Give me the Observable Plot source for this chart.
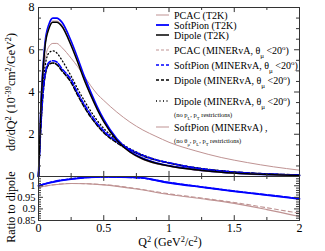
<!DOCTYPE html>
<html><head><meta charset="utf-8">
<script src="https://cdn.jsdelivr.net/npm/d3@7"></script>
<script src="https://cdn.jsdelivr.net/npm/@observablehq/plot@0.6"></script>
<style>
body{margin:0;background:#fff}
#wrap{position:relative;width:325px;height:251px;font-family:"Liberation Serif",serif;overflow:hidden}
#wrap svg{position:absolute;left:0}
</style>
</head><body><div id="wrap"></div>
<script>
// ---- data ----
const q2 = [0, 0.02, 0.05, 0.08, 0.11, 0.14, 0.18, 0.25, 0.3, 0.35, 0.4, 0.45, 0.5, 0.6, 0.7, 0.8, 0.9, 1.0, 1.2, 1.4, 1.6, 1.8, 2.0];
const pcacT2K      = [0, 3.45, 6.2, 7.05, 7.36, 7.36, 7.16, 6.26, 5.46, 4.6, 3.86, 3.18, 2.6, 1.7, 1.14, 0.8, 0.6, 0.48, 0.3, 0.19, 0.12, 0.078, 0.043];
const softT2K      = [0, 3.5, 6.3, 7.2, 7.5, 7.5, 7.3, 6.4, 5.6, 4.75, 4.0, 3.3, 2.7, 1.78, 1.2, 0.86, 0.65, 0.51, 0.325, 0.205, 0.13, 0.085, 0.048];
const dipoleT2K    = [0, 3.45, 6.15, 7.0, 7.3, 7.3, 7.1, 6.2, 5.42, 4.58, 3.85, 3.18, 2.6, 1.72, 1.16, 0.83, 0.63, 0.5, 0.32, 0.205, 0.132, 0.088, 0.05];
const pcacMIN      = [0, 2.6, 4.77, 5.33, 5.4, 5.33, 5.03, 4.48, 3.87, 3.31, 2.83, 2.42, 2.09, 1.59, 1.23, 0.96, 0.76, 0.62, 0.39, 0.25, 0.158, 0.1, 0.062];
const softMIN      = [0, 2.62, 4.82, 5.4, 5.48, 5.42, 5.1, 4.58, 3.97, 3.42, 2.93, 2.51, 2.16, 1.66, 1.29, 1.0, 0.79, 0.65, 0.41, 0.263, 0.166, 0.106, 0.066];
const dipoleMIN    = [0, 2.6, 4.75, 5.3, 5.37, 5.3, 5.0, 4.45, 3.85, 3.3, 2.82, 2.42, 2.08, 1.6, 1.25, 0.98, 0.78, 0.64, 0.41, 0.265, 0.17, 0.11, 0.07];
const dipoleMINnoP = [0, 2.9, 5.2, 5.85, 5.95, 5.85, 5.5, 4.75, 4.15, 3.6, 3.1, 2.65, 2.28, 1.72, 1.32, 1.02, 0.8, 0.64, 0.42, 0.27, 0.17, 0.11, 0.07];
const softMINnoR   = [0, 3.0, 5.5, 6.15, 6.3, 6.3, 6.1, 5.6, 5.2, 4.75, 4.3, 3.9, 3.6, 3.05, 2.58, 2.2, 1.9, 1.62, 1.22, 0.9, 0.66, 0.46, 0.3];

const q2r = [0, 0.1, 0.25, 0.5, 0.75, 1.0, 1.25, 1.5, 1.75, 2.0];
const ratioPcacT2K = [0.993, 1.003, 1.01, 1.004, 0.986, 0.962, 0.944, 0.924, 0.897, 0.867];
const ratioPcacMIN = [0.993, 1.003, 1.01, 1.005, 0.988, 0.965, 0.947, 0.928, 0.905, 0.881];
const ratioSoftT2K = [1.0, 1.015, 1.029, 1.038, 1.036, 1.013, 0.994, 0.976, 0.96, 0.943];
const ratioSoftMIN = [1.0, 1.016, 1.03, 1.038, 1.035, 1.014, 0.995, 0.977, 0.961, 0.945];

const xMajor = [0, 0.5, 1, 1.5, 2];
const xMinor = [0.25, 0.75, 1.25, 1.75];
const xLabels = ["0", "0.5", "1", "1.5", "2"];
const yMajor = [0, 2, 4, 6, 8];
const yMinor = [0.5,1,1.5,2.5,3,3.5,4.5,5,5.5,6.5,7,7.5];
const rMajor = [0.85, 0.9, 0.95, 1];
const rMinor = [0.86,0.87,0.88,0.89,0.91,0.92,0.93,0.94,0.96,0.97,0.98,0.99,1.01,1.02,1.03];
const rLabels = ["0.85", "0.9", "0.95", "1"];

const legendItems = [
  {label: "PCAC (T2K)"},
  {label: "SoftPion (T2K)"},
  {label: "Dipole (T2K)"},
  {label: "PCAC (MINERvA, θ", sub: "μ", tail: " <20", sup: "o", end: ")"},
  {label: "SoftPion (MINERvA, θ", sub: "μ", tail: " <20", sup: "o", end: ")"},
  {label: "Dipole (MINERvA, θ", sub: "μ", tail: " <20", sup: "o", end: ")"},
  {label: "Dipole (MINERvA, θ", sub: "μ", tail: " <20", sup: "o", end: ")"},
  {label: "SoftPion (MINERvA) ,"}
];

// ---- build ----
const rows = (xs, ys) => xs.map((x, i) => ({x, y: ys[i]}));
const ROSY = "#bf9393", BLUE = "#0000ff", BLACK = "#000";
const font = {fontFamily: "Liberation Serif, serif", fontSize: "12px", background: "transparent", overflow: "visible"};
const wrap = document.getElementById("wrap");

const upper = Plot.plot({
  width: 325, height: 181,
  marginLeft: 38, marginRight: 26, marginTop: 7, marginBottom: 5,
  style: font,
  x: {domain: [0, 2], axis: null},
  y: {domain: [0, 8]},
  marks: [
    Plot.line(rows(q2, softMINnoR), {x: "x", y: "y", stroke: ROSY, strokeWidth: 1, curve: "monotone-x"}),
    Plot.line(rows(q2, pcacMIN), {x: "x", y: "y", stroke: ROSY, strokeWidth: 1, strokeDasharray: "4,3", curve: "monotone-x"}),
    Plot.line(rows(q2, dipoleMINnoP), {x: "x", y: "y", stroke: BLACK, strokeWidth: 1.3, strokeDasharray: "1,2.5", curve: "monotone-x"}),
    Plot.line(rows(q2, dipoleMIN), {x: "x", y: "y", stroke: BLACK, strokeWidth: 1.6, strokeDasharray: "4,2", curve: "monotone-x"}),
    Plot.line(rows(q2, softMIN), {x: "x", y: "y", stroke: BLUE, strokeWidth: 1.6, strokeDasharray: "5,2", curve: "monotone-x"}),
    Plot.line(rows(q2, softT2K), {x: "x", y: "y", stroke: BLUE, strokeWidth: 1.8, curve: "monotone-x"}),
    Plot.line(rows(q2, pcacT2K), {x: "x", y: "y", stroke: ROSY, strokeWidth: 1, curve: "monotone-x"}),
    Plot.line(rows(q2, dipoleT2K), {x: "x", y: "y", stroke: BLACK, strokeWidth: 1.5, curve: "monotone-x"}),
    // inward ticks
    Plot.ruleX(xMajor, {x: d => d, y1: 0, y2: 0.24, stroke: "#333"}),
    Plot.ruleX(xMinor, {x: d => d, y1: 0, y2: 0.14, stroke: "#333"}),
    Plot.ruleX(xMajor, {x: d => d, y1: 8, y2: 7.76, stroke: "#333"}),
    Plot.ruleX(xMinor, {x: d => d, y1: 8, y2: 7.86, stroke: "#333"}),
    Plot.ruleY(yMajor, {y: d => d, x1: 0, x2: 0.038, stroke: "#333"}),
    Plot.ruleY(yMinor, {y: d => d, x1: 0, x2: 0.023, stroke: "#333"}),
    Plot.ruleY(yMajor, {y: d => d, x1: 2, x2: 1.962, stroke: "#333"}),
    Plot.ruleY(yMinor, {y: d => d, x1: 2, x2: 1.977, stroke: "#333"}),
    Plot.axisY({ticks: yMajor, tickSize: 0, tickPadding: 4, label: null, fontSize: 12}),
    Plot.frame({stroke: "#333", strokeWidth: 1})
  ]
});
upper.style.top = "0px";
wrap.appendChild(upper);

const lower = Plot.plot({
  width: 325, height: 75,
  marginLeft: 38, marginRight: 26, marginTop: 0, marginBottom: 31,
  style: font,
  x: {domain: [0, 2]},
  y: {domain: [0.85, 1.04]},
  marks: [
    Plot.line(rows(q2r, ratioPcacT2K), {x: "x", y: "y", stroke: ROSY, strokeWidth: 1.1, curve: "monotone-x"}),
    Plot.line(rows(q2r, ratioPcacMIN), {x: "x", y: "y", stroke: ROSY, strokeWidth: 1.1, strokeDasharray: "4,3", curve: "monotone-x"}),
    Plot.line(rows(q2r, ratioSoftT2K), {x: "x", y: "y", stroke: BLUE, strokeWidth: 1.8, curve: "monotone-x"}),
    Plot.line(rows(q2r, ratioSoftMIN), {x: "x", y: "y", stroke: BLUE, strokeWidth: 1.6, strokeDasharray: "6,2", curve: "monotone-x"}),
    Plot.ruleX(xMajor, {x: d => d, y1: 0.85, y2: 0.871, stroke: "#333"}),
    Plot.ruleX(xMinor, {x: d => d, y1: 0.85, y2: 0.863, stroke: "#333"}),
    Plot.ruleX(xMajor, {x: d => d, y1: 1.04, y2: 1.019, stroke: "#333"}),
    Plot.ruleX(xMinor, {x: d => d, y1: 1.04, y2: 1.027, stroke: "#333"}),
    Plot.ruleY(rMajor, {y: d => d, x1: 0, x2: 0.038, stroke: "#333"}),
    Plot.ruleY(rMinor, {y: d => d, x1: 0, x2: 0.023, stroke: "#333"}),
    Plot.ruleY(rMajor, {y: d => d, x1: 2, x2: 1.962, stroke: "#333"}),
    Plot.ruleY(rMinor, {y: d => d, x1: 2, x2: 1.977, stroke: "#333"}),
    Plot.axisY({ticks: rMajor, tickFormat: (d, i) => rLabels[i], tickSize: 0, tickPadding: 3, label: null, fontSize: 10.5}),
    Plot.axisX({ticks: xMajor, tickFormat: (d, i) => xLabels[i], tickSize: 0, tickPadding: 3, label: null, fontSize: 12}),
    Plot.frame({stroke: "#333", strokeWidth: 1})
  ]
});
lower.style.top = "176px";
wrap.appendChild(lower);

// ---- overlay: axis titles and legend ----
const svg = d3.select(wrap).append("svg")
  .attr("width", 325).attr("height", 251)
  .style("top", "0px").style("font-family", "Liberation Serif, serif");

function rich(sel, parts) {
  for (const p of parts) {
    const t = sel.append("tspan").text(p.t);
    if (p.sup) t.attr("baseline-shift", "super").attr("font-size", "0.7em");
    if (p.sub) t.attr("baseline-shift", "sub").attr("font-size", "0.7em");
  }
}

// y title (upper)
const yt = svg.append("text").attr("transform", "translate(15,92) rotate(-90)")
  .attr("text-anchor", "middle").attr("font-size", 12);
rich(yt, [{t: "dσ/dQ"}, {t: "2", sup: 1}, {t: " (10"}, {t: "-39", sup: 1}, {t: "cm"}, {t: "2", sup: 1}, {t: "/GeV"}, {t: "2", sup: 1}, {t: ")"}]);

// y title (lower)
svg.append("text").attr("transform", "translate(15,207) rotate(-90)")
  .attr("text-anchor", "middle").attr("font-size", 12).text("Ratio to dipole");

// x title
const xt = svg.append("text").attr("x", 170).attr("y", 246).attr("text-anchor", "middle").attr("font-size", 12);
rich(xt, [{t: "Q"}, {t: "2", sup: 1}, {t: " (GeV"}, {t: "2", sup: 1}, {t: "/c"}, {t: "2", sup: 1}, {t: ")"}]);

// legend
const legY = [15, 25, 35, 50, 65, 80, 101, 127];
const legStyle = [
  {stroke: ROSY, w: 1, dash: null},
  {stroke: BLUE, w: 1.8, dash: null},
  {stroke: BLACK, w: 1.5, dash: null},
  {stroke: ROSY, w: 1, dash: "3,2"},
  {stroke: BLUE, w: 1.6, dash: "3,2"},
  {stroke: BLACK, w: 1.6, dash: "3,2"},
  {stroke: BLACK, w: 1.3, dash: "1,2.5"},
  {stroke: ROSY, w: 1, dash: null}
];
legendItems.forEach((it, i) => {
  const y = legY[i], s = legStyle[i];
  svg.append("line").attr("x1", 156).attr("x2", 169).attr("y1", y).attr("y2", y)
    .attr("stroke", s.stroke).attr("stroke-width", s.w).attr("stroke-dasharray", s.dash);
  const t = svg.append("text").attr("x", 174).attr("y", y + 3.5).attr("font-size", 10);
  const parts = [{t: it.label}];
  if (it.sub) parts.push({t: it.sub, sub: 1}, {t: it.tail}, {t: it.sup, sup: 1}, {t: it.end});
  rich(t, parts);
});
const n1 = svg.append("text").attr("x", 174).attr("y", 117).attr("font-size", 6.5);
rich(n1, [{t: "(no p"}, {t: "L", sub: 1}, {t: ", p"}, {t: "T", sub: 1}, {t: " restrictions)"}]);
const n2 = svg.append("text").attr("x", 174).attr("y", 143).attr("font-size", 6.5);
rich(n2, [{t: "(no θ"}, {t: "μ", sub: 1}, {t: ", p"}, {t: "L", sub: 1}, {t: ", p"}, {t: "T", sub: 1}, {t: " restrictions)"}]);
</script>
</body></html>
